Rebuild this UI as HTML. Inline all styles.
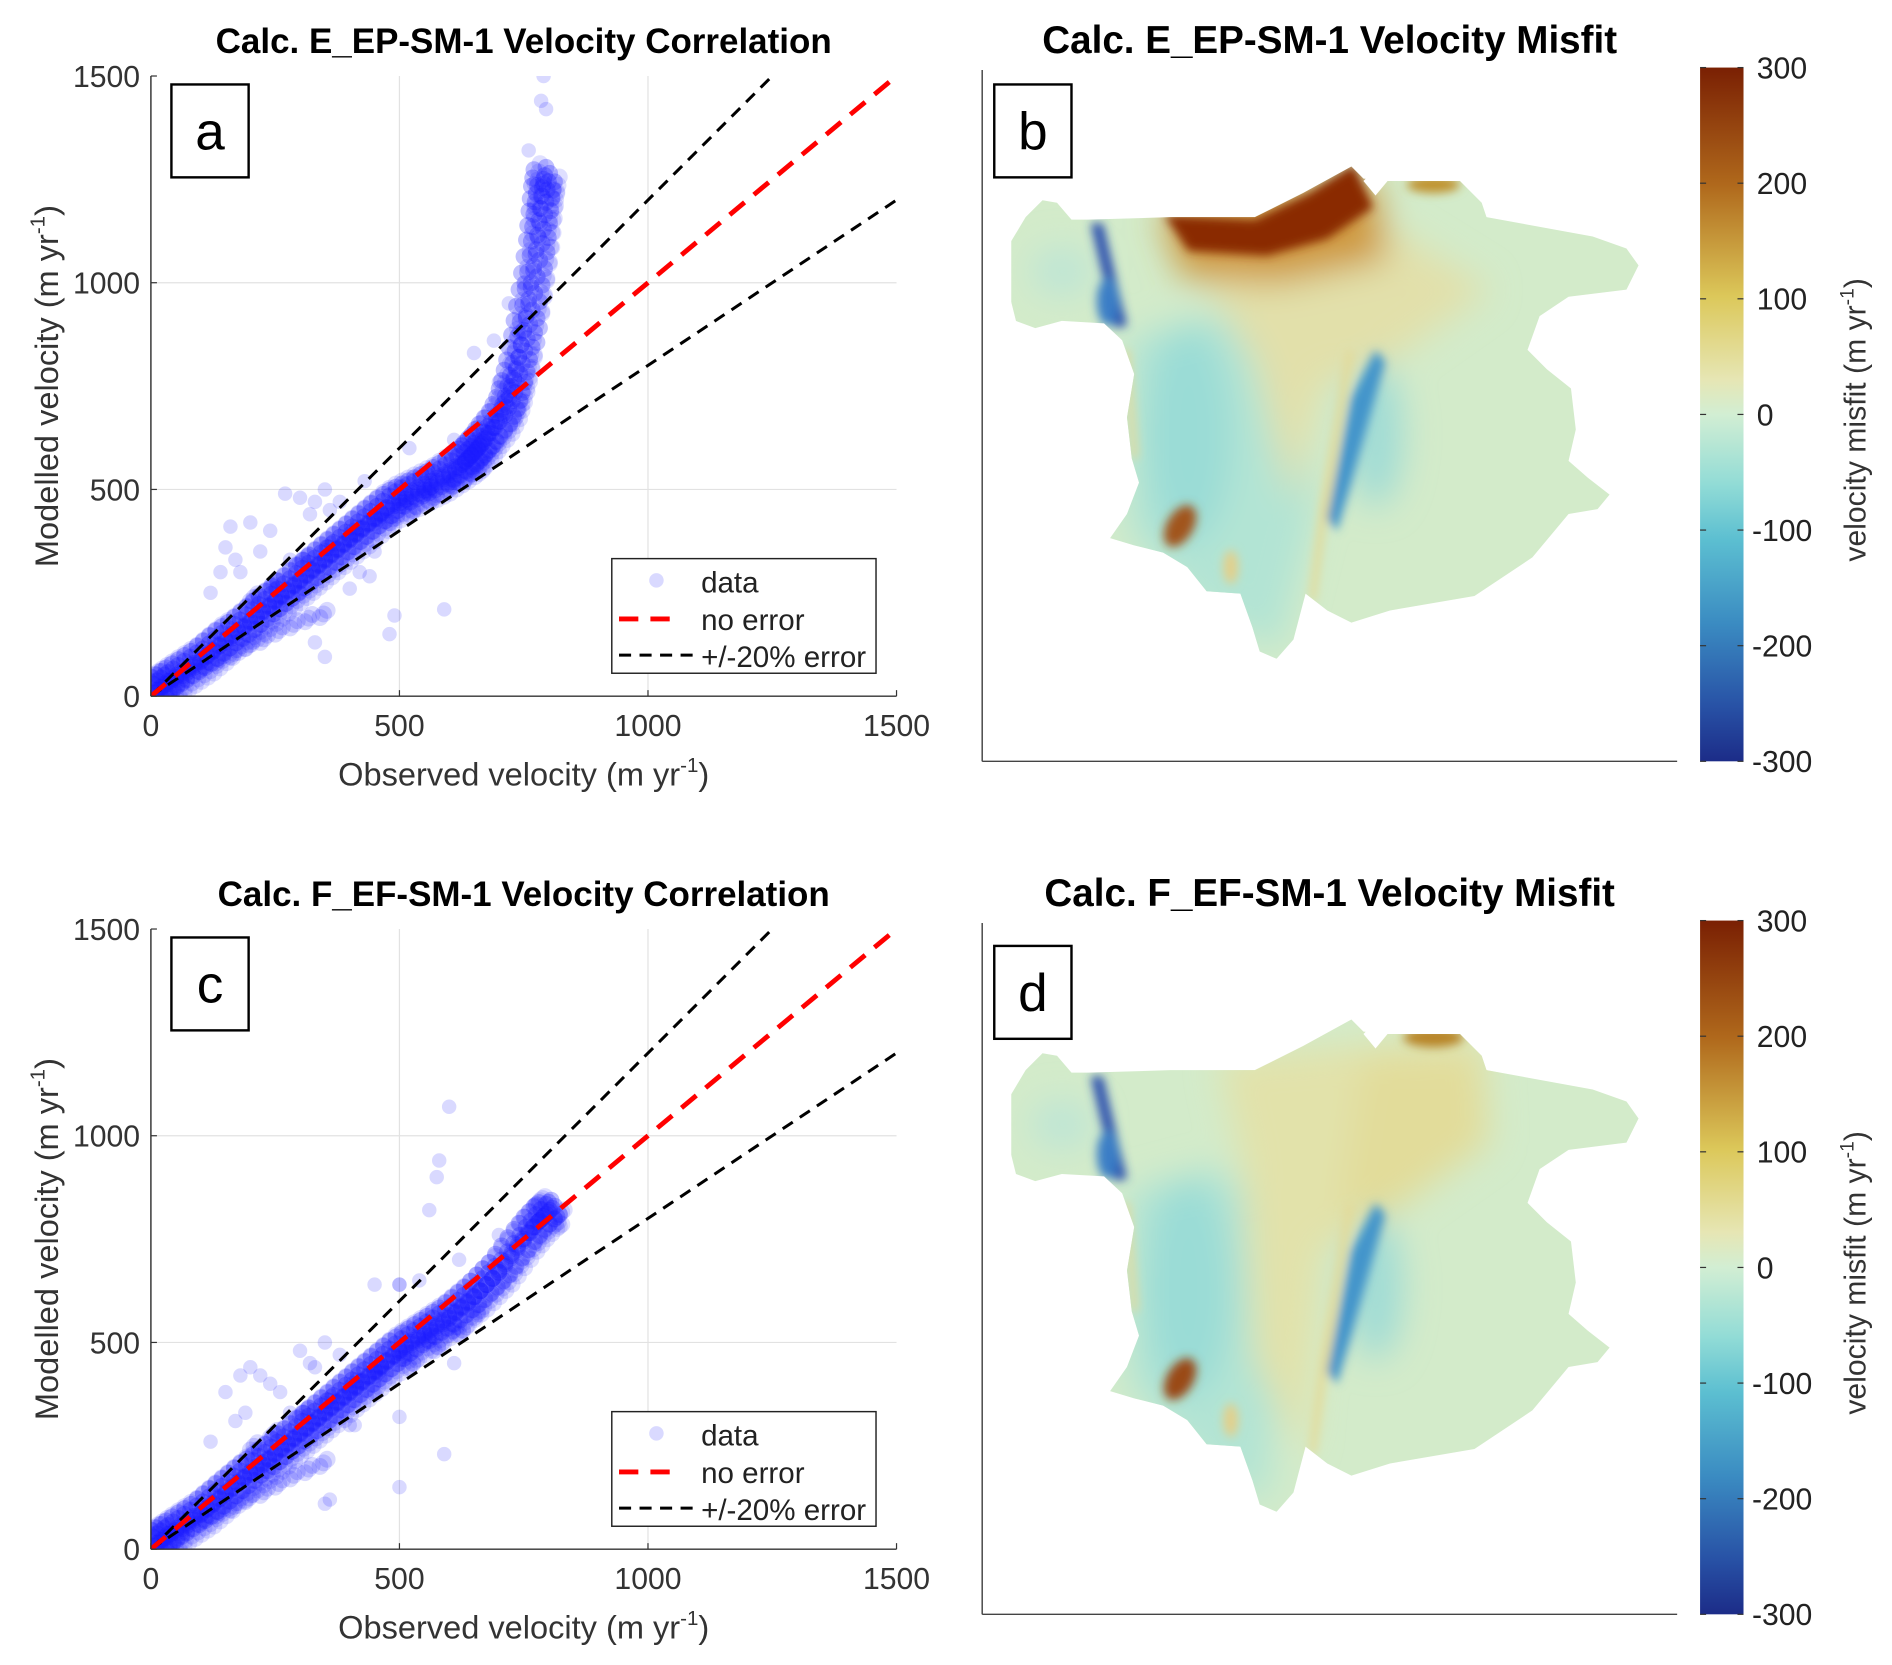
<!DOCTYPE html>
<html><head><meta charset="utf-8"><style>
html,body{margin:0;padding:0;background:#fff;}
svg{display:block;font-family:"Liberation Sans",Arial,sans-serif;}
</style></head><body>
<svg id="fig" width="1892" height="1665" viewBox="0 0 1568 1380">
<defs>
<linearGradient id="cbar" x1="0" y1="0" x2="0" y2="1">
<stop offset="0" stop-color="#7a2003"/><stop offset="0.17" stop-color="#b0691c"/>
<stop offset="0.33" stop-color="#dcc85a"/><stop offset="0.45" stop-color="#e6e6b4"/>
<stop offset="0.5" stop-color="#d2eed3"/><stop offset="0.6" stop-color="#92dcd6"/>
<stop offset="0.68" stop-color="#5cbfd1"/><stop offset="0.8" stop-color="#3b8cc2"/>
<stop offset="0.92" stop-color="#2852a6"/><stop offset="1" stop-color="#1c2c88"/>
</linearGradient>
<clipPath id="glacier"><path id="gshape" d="M838,200 L850,180 L864,166 L876,168 L888,182 L902,182 L970,180 L1040,180 L1080,160 L1120,138 L1130,148 L1150,150 L1210,150 L1228,168 L1232,180 L1320,196 L1348,206 L1358,220 L1348,240 L1300,246 L1276,262 L1266,290 L1282,306 L1302,322 L1306,356 L1300,382 L1316,396 L1334,410 L1324,422 L1300,426 L1270,462 L1222,494 L1152,506 L1120,516 L1100,506 L1082,492 L1072,530 L1058,546 L1044,540 L1038,520 L1028,492 L1000,490 L984,470 L964,458 L940,452 L920,446 L934,426 L944,400 L938,380 L934,346 L940,310 L930,282 L915,268 L880,266 L858,272 L842,266 L838,250 Z"/></clipPath>
<filter id="bl" x="-50%" y="-50%" width="200%" height="200%"><feGaussianBlur stdDeviation="14"/></filter>
<filter id="bl2" x="-50%" y="-50%" width="200%" height="200%"><feGaussianBlur stdDeviation="4"/></filter>
<clipPath id="clipA"><rect x="125" y="63" width="618" height="514"/></clipPath>
<clipPath id="clipC"><rect x="125" y="770" width="618" height="514"/></clipPath>
</defs>

<!-- Panel b -->
<g>
<text x="1102" y="44" font-size="32" font-weight="bold" text-anchor="middle">Calc. E_EP-SM-1 Velocity Misfit</text>
<line x1="814" y1="58" x2="814" y2="631" stroke="#444" stroke-width="1.2"/>
<line x1="814" y1="631" x2="1390" y2="631" stroke="#444" stroke-width="1.2"/>
<g clip-path="url(#glacier)">
<rect x="820" y="120" width="560" height="440" fill="#d3ebca"/>
<g filter="url(#bl)">
<path d="M935,280 L1010,260 L1080,300 L1090,420 L1060,540 L990,500 L935,440 Z" fill="#b2e4d4"/>
<ellipse cx="985" cy="360" rx="35" ry="90" fill="#9adcd6"/>
<path d="M975,175 L1130,175 L1235,240 L1150,300 L1095,320 L1070,420 L1040,300 L990,220 Z" fill="#e2e0aa"/>
<path d="M960,175 L1140,150 L1150,215 L1060,235 L980,230 Z" fill="#cf9a40"/>
<ellipse cx="880" cy="225" rx="25" ry="20" fill="#bde5d6"/>
<ellipse cx="1140" cy="360" rx="22" ry="60" fill="#9fdbd6"/>
</g>
<g filter="url(#bl2)">
<path d="M965,178 L1040,182 L1085,160 L1122,136 L1138,172 L1100,198 L1050,212 L985,208 Z" fill="#8a2906"/>
<ellipse cx="1188" cy="153" rx="22" ry="7" fill="#c0922e"/>
<path d="M904,185 L914,185 L934,270 L924,272 Z" fill="#2a4fae"/>
<ellipse cx="918" cy="250" rx="9" ry="20" fill="#3a7ec6"/>
<path d="M1140,290 L1148,300 L1120,400 L1108,440 L1100,430 L1120,330 Z" fill="#4294cb"/>
<path d="M1116,290 L1122,292 L1098,440 L1090,500 L1085,496 L1094,420 Z" fill="#e4da98"/>
<path d="M931,290 L936,290 L943,380 L938,380 Z" fill="#e4d898"/>
<ellipse cx="978" cy="436" rx="11" ry="19" transform="rotate(30 978 436)" fill="#a1541a"/>
<ellipse cx="1020" cy="470" rx="6" ry="14" fill="#e4cf88"/>
</g>
</g>
<path d="M1130,150 L1140,140 L1150,150 L1140,162 Z" fill="#fff"/>
<rect x="824" y="70" width="64" height="77" fill="#fff" stroke="#000" stroke-width="2"/>
<text x="856" y="124" font-size="44" text-anchor="middle">b</text>
<rect x="1409" y="56" width="36" height="575" fill="url(#cbar)"/>
<g id="cbticks-b"></g>
<text transform="translate(1546,348) rotate(-90)" font-size="25" fill="#333" text-anchor="middle">velocity misfit (m yr<tspan dy="-10" font-size="16">-1</tspan><tspan dy="10">)</tspan></text>
</g>

<!-- Panel d -->
<g>
<text x="1102" y="751" font-size="32" font-weight="bold" text-anchor="middle">Calc. F_EF-SM-1 Velocity Misfit</text>
<line x1="814" y1="765" x2="814" y2="1338" stroke="#444" stroke-width="1.2"/>
<line x1="814" y1="1338" x2="1390" y2="1338" stroke="#444" stroke-width="1.2"/>
<g transform="translate(0,707)">
<g clip-path="url(#glacier)">
<rect x="820" y="120" width="560" height="440" fill="#d3ebca"/>
<g filter="url(#bl)">
<path d="M935,280 L1010,260 L1050,300 L1060,420 L1050,540 L990,500 L935,440 Z" fill="#b2e4d4"/>
<ellipse cx="985" cy="360" rx="35" ry="90" fill="#9adcd6"/>
<path d="M1010,170 L1230,150 L1235,240 L1150,300 L1095,330 L1080,500 L1040,420 L1030,260 Z" fill="#e2e2aa"/>
<path d="M1130,170 L1225,170 L1230,240 L1150,300 L1110,300 Z" fill="#e2dc9a"/>
<ellipse cx="880" cy="225" rx="25" ry="20" fill="#bde5d6"/>
<ellipse cx="1140" cy="360" rx="22" ry="60" fill="#9fdbd6"/>
</g>
<g filter="url(#bl2)">
<ellipse cx="1188" cy="153" rx="25" ry="8" fill="#b88426"/>
<path d="M904,185 L914,185 L934,270 L924,272 Z" fill="#2a4fae"/>
<ellipse cx="918" cy="250" rx="9" ry="20" fill="#3a7ec6"/>
<path d="M1140,290 L1148,300 L1120,400 L1108,440 L1100,430 L1120,330 Z" fill="#4294cb"/>
<path d="M1116,290 L1122,292 L1098,440 L1090,500 L1085,496 L1094,420 Z" fill="#e4da98"/>
<path d="M931,290 L936,290 L943,380 L938,380 Z" fill="#e4d898"/>
<ellipse cx="978" cy="436" rx="11" ry="19" transform="rotate(30 978 436)" fill="#9a4a12"/>
<ellipse cx="1020" cy="470" rx="6" ry="14" fill="#e4cf88"/>
</g>
</g>
<path d="M1130,150 L1140,140 L1150,150 L1140,162 Z" fill="#fff"/>
</g>
<rect x="824" y="784" width="64" height="77" fill="#fff" stroke="#000" stroke-width="2"/>
<text x="856" y="838" font-size="44" text-anchor="middle">d</text>
<rect x="1409" y="763" width="36" height="575" fill="url(#cbar)"/>
<g id="cbticks-d"></g>
<text transform="translate(1546,1055) rotate(-90)" font-size="25" fill="#333" text-anchor="middle">velocity misfit (m yr<tspan dy="-10" font-size="16">-1</tspan><tspan dy="10">)</tspan></text>
</g>

<g id="panelA"></g>
<g id="panelC"></g>
</svg>
<script>
const NS="http://www.w3.org/2000/svg";
const tickVals=[0,500,1000,1500];
const cbTicks=[300,200,100,0,-100,-200,-300];
// Panel a data (observed, modelled) in m/yr
const coreObsA=[0,15,30,50,75,100,125,150,175,200,225,250,275,300,325,350,375,400,425,450,475,500,525,550,575,600,625,640,650,665,680,700,715,725,735,745,755,765,775,780,785,790];
const coreModA=[0,15,28,45,65,85,110,135,155,180,205,230,255,280,305,330,355,380,405,430,455,475,490,505,520,540,560,575,590,610,635,665,700,740,790,850,920,1000,1080,1150,1210,1250];
const lowObsA=[60,100,130,160,190,220,250,280,310,340,200,240,300,350,400,450,500,550,600,640,520,560,600,630,480];
const lowModA=[40,65,80,95,115,130,150,165,180,190,230,260,320,350,390,420,460,490,510,540,440,470,500,520,420];
const outObsA=[150,160,180,200,170,270,300,350,320,280,250,400,450,480,490,590,350,330,420,520,650,690,720,750,760,785,790,795,120,140,220,240,380,430,560,610,700,740,770,770,330,360,260,300,440];
const outModA=[360,410,300,420,330,490,480,500,440,330,260,260,350,150,195,210,95,130,300,600,830,860,950,1000,1320,1440,1500,1420,250,300,350,400,470,520,540,620,760,880,1180,1240,470,450,230,250,290];
// Panel c data
const coreObsC=[0,15,30,50,75,100,125,150,175,200,225,250,275,300,325,350,375,400,425,450,475,500,525,550,575,600,625,650,675,700,725,750,770,790,800];
const coreModC=[0,15,28,45,65,85,110,135,160,185,205,230,255,280,305,330,355,380,405,430,455,480,500,520,540,560,585,610,640,670,710,750,780,805,815];
const lowObsC=[60,100,130,160,190,220,250,280,310,340,200,240,300,350,400,450,500,550,600,650,520,570,620];
const lowModC=[40,65,80,95,115,130,150,170,185,200,240,270,320,350,390,420,460,500,520,560,440,480,520];
const outObsC=[150,180,170,200,220,190,260,300,350,320,280,400,450,500,500,590,350,360,500,560,575,580,600,610,540,450,500,620,700,120,240,380,330,410];
const outModC=[380,420,310,440,420,330,380,480,500,450,330,300,380,150,320,230,110,120,640,820,900,940,1070,450,650,640,640,700,760,260,400,470,440,300];

function el(tag,attrs,parent){const e=document.createElementNS(NS,tag);for(const k in attrs)e.setAttribute(k,attrs[k]);parent.appendChild(e);return e;}

function drawPanel(g,top,letter,title,clip,core,coreM,low,lowM,out,outM){
  const L=125,R=743,T=top,B=top+514;
  const xs=v=>L+(v/1500)*(R-L), ys=v=>B-(v/1500)*(B-T);
  let t=el('text',{x:434,y:top-19,'font-size':29,'font-weight':'bold','text-anchor':'middle'},g);t.textContent=title;
  
  
  el('rect',{x:L,y:T,width:R-L,height:B-T,fill:'#fff'},g);
  tickVals.forEach(v=>{
    if(v>0&&v<1500){
      let gl=el('line',{x1:xs(v),x2:xs(v),y1:T,y2:B,stroke:'#e2e2e2','stroke-width':1},g);
      
      
      let gh=el('line',{x1:L,x2:R,y1:ys(v),y2:ys(v),stroke:'#e2e2e2','stroke-width':1},g);
      
      
    }
    let tx=el('text',{x:xs(v),y:B+33,'font-size':25,fill:'#333','text-anchor':'middle'},g);tx.textContent=v;
    
    
    let ty=el('text',{x:L-9,y:ys(v)+9,'font-size':25,fill:'#333','text-anchor':'end'},g);ty.textContent=v;
    
    
    el('line',{x1:xs(v),x2:xs(v),y1:B,y2:B-5,stroke:'#333'},g);
    el('line',{x1:L,x2:L+5,y1:ys(v),y2:ys(v),stroke:'#333'},g);
  });
  const pg=el('g',{'clip-path':'url(#'+clip+')'},g);
  
  
  out.forEach((v,i)=>{let c=el('circle',{cx:xs(v),cy:ys(outM[i]),r:6,fill:'#0000ff','fill-opacity':0.15},pg);
    
    });
  for(let k=0;k<3;k++) low.forEach((v,i)=>{let c=el('circle',{cx:xs(v)+k*3,cy:ys(lowM[i])-k*3,r:7,fill:'#0000ff','fill-opacity':0.15},pg);
    
    });
  const offs=[[0,0],[5,-5],[-5,5],[9,2],[2,-10],[-8,-8],[8,8],[13,-2],[-3,-13],[11,10]];
  offs.forEach((o,j)=>core.forEach((v,i)=>{
    const op=j<6?0.28:0.14;
    if(i>0){
      const xm=(xs(v)+xs(core[i-1]))/2, ym=(ys(coreM[i])+ys(coreM[i-1]))/2;
      let c2=el('circle',{cx:xm+o[0],cy:ym+o[1],r:7,fill:'#1a1aff','fill-opacity':op},pg);
      
      
    }
    let c=el('circle',{cx:xs(v)+o[0],cy:ys(coreM[i])+o[1],r:7,fill:'#1a1aff','fill-opacity':op},pg);
    
    }));
  const lg=el('g',{'clip-path':'url(#'+clip+')'},g);
  let up=el('line',{x1:xs(0),y1:ys(0),x2:xs(1250),y2:ys(1500),stroke:'#000','stroke-width':2.5,'stroke-dasharray':'10 7'},lg);
  
  
  let dn=el('line',{x1:xs(0),y1:ys(0),x2:xs(1500),y2:ys(1200),stroke:'#000','stroke-width':2.5,'stroke-dasharray':'10 7'},lg);
  
  
  let ne=el('line',{x1:xs(0),y1:ys(0),x2:xs(1500),y2:ys(1500),stroke:'#ff0000','stroke-width':4,'stroke-dasharray':'16 10'},lg);
  
  
  el('line',{x1:L,y1:B,x2:R,y2:B,stroke:'#333','stroke-width':1.2},g);
  el('line',{x1:L,y1:T,x2:L,y2:B,stroke:'#333','stroke-width':1.2},g);
  let bx=el('rect',{x:142,y:T+7,width:64,height:77,fill:'#fff',stroke:'#000','stroke-width':2},g);
  
  
  let lt=el('text',{x:174,y:T+61,'font-size':44,'text-anchor':'middle'},g);lt.textContent=letter;
  
  
  const lgd=el('g',{},g);
  
  
  el('rect',{x:507,y:T+400,width:219,height:95,fill:'#fff',stroke:'#222','stroke-width':1.2},lgd);
  el('circle',{cx:544,cy:T+418,r:6,fill:'#0000ff','fill-opacity':0.15},lgd);
  el('line',{x1:513,x2:565,y1:T+450,y2:T+450,stroke:'#f00','stroke-width':4,'stroke-dasharray':'16 10'},lgd);
  el('line',{x1:513,x2:575,y1:T+480,y2:T+480,stroke:'#000','stroke-width':2.5,'stroke-dasharray':'10 7'},lgd);
  [['data',T+428],['no error',T+459],['+/-20% error',T+490]].forEach(a=>{
    let tt=el('text',{x:581,y:a[1],'font-size':24.5,fill:'#222'},lgd);tt.textContent=a[0];
    
    
  });
  let xl=el('text',{x:434,y:B+74,'font-size':27,fill:'#333','text-anchor':'middle'},g);
  xl.innerHTML='Observed velocity (m yr<tspan dy="-11" font-size="17">-1</tspan><tspan dy="11">)</tspan>';
  
  
  let yl=el('text',{transform:'translate(48,'+(T+257)+') rotate(-90)','font-size':27,fill:'#333','text-anchor':'middle'},g);
  yl.innerHTML='Modelled velocity (m yr<tspan dy="-11" font-size="17">-1</tspan><tspan dy="11">)</tspan>';
  
  
}
drawPanel(document.getElementById('panelA'),63,'a','Calc. E_EP-SM-1 Velocity Correlation','clipA',coreObsA,coreModA,lowObsA,lowModA,outObsA,outModA);
drawPanel(document.getElementById('panelC'),770,'c','Calc. F_EF-SM-1 Velocity Correlation','clipC',coreObsC,coreModC,lowObsC,lowModC,outObsC,outModC);

function cb(id,top){
  const g=document.getElementById(id);
  cbTicks.forEach(v=>{
    const y=top+(300-v)/600*575;
    el('line',{x1:1409,x2:1414,y1:y,y2:y,stroke:'#333'},g);
    el('line',{x1:1440,x2:1445,y1:y,y2:y,stroke:'#333'},g);
    let t=el('text',{x:v<0?1452:1456,y:y+9,'font-size':25,fill:'#222'},g);t.textContent=v;
    
    
  });
}
cb('cbticks-b',56);cb('cbticks-d',763);
</script>
</body></html>
